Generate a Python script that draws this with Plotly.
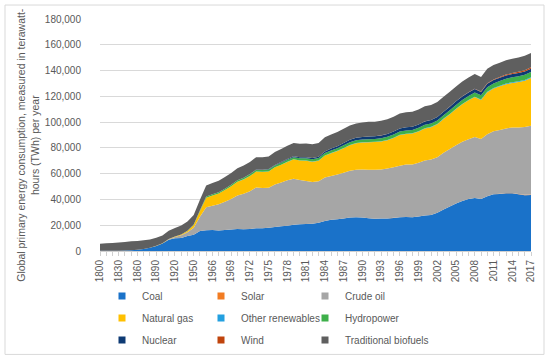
import plotly.graph_objects as go

years = ["1800", "1810", "1820", "1830", "1840", "1850", "1860", "1870", "1880", "1890",
         "1900", "1910", "1920", "1930", "1940", "1950", "1960",
         "1965", "1966", "1967", "1968", "1969", "1970", "1971", "1972", "1973", "1974",
         "1975", "1976", "1977", "1978", "1979", "1980", "1981", "1982", "1983", "1984",
         "1985", "1986", "1987", "1988", "1989", "1990", "1991", "1992", "1993", "1994",
         "1995", "1996", "1997", "1998", "1999", "2000", "2001", "2002", "2003", "2004",
         "2005", "2006", "2007", "2008", "2009", "2010", "2011", "2012", "2013", "2014",
         "2015", "2016", "2017"]

tick_labels = ["1800", "1830", "1860", "1890", "1920", "1950", "1966", "1969", "1972",
               "1975", "1978", "1981", "1984", "1987", "1990", "1993", "1996", "1999",
               "2002", "2005", "2008", "2011", "2014", "2017"]

coal = [97, 128, 153, 264, 356, 569, 1061, 1642, 2542, 3856,
        5728, 8656, 9833, 10125, 11586, 12603, 15442,
        16140, 16300, 15980, 16250, 16700, 17050, 16950, 17100, 17700, 17650,
        18000, 18700, 19200, 19500, 20300, 20700, 21000, 21200, 21900, 23200,
        24200, 24600, 25300, 25900, 26100, 25900, 25400, 25100, 25200, 25300,
        25700, 26200, 26400, 26200, 26800, 27600, 28000, 29700, 32200, 34600,
        36900, 38800, 40300, 41200, 40300, 42400, 44000, 44300, 44800, 44900,
        44000, 43300, 43400]

solar = [0] * 17 + [0] * 25 + [0, 0, 0, 0, 0, 1, 1, 1, 1, 1,
                               1, 2, 2, 3, 3, 4, 6, 8, 12, 20,
                               33, 64, 100, 139, 190, 253, 328, 443]

crude_oil = [0, 0, 0, 0, 0, 0, 0, 6, 33, 89,
             181, 472, 1111, 2056, 3000, 5444, 11097,
             17800, 18900, 20200, 21900, 23600, 26000, 27400, 29300, 31600, 31200,
             31100, 32900, 34000, 35300, 35700, 34300, 33300, 32400, 32300, 33800,
             33900, 34800, 35400, 36400, 37000, 37400, 37600, 37900, 38000, 38700,
             39200, 40000, 40700, 40900, 41700, 42600, 42900, 43000, 44000, 44500,
             45200, 46000, 46400, 47200, 46600, 48200, 48800, 49500, 50200, 50700,
             51600, 52500, 53400]

natural_gas = [0, 0, 0, 0, 0, 0, 0, 0, 0, 33,
               64, 161, 233, 589, 875, 2092, 4472,
               7300, 7850, 8400, 9100, 9900, 10600, 11200, 11800, 12300, 12500,
               12600, 13300, 13700, 14300, 15100, 15200, 15800, 15700, 15900, 17000,
               17800, 18200, 19100, 19800, 20500, 20900, 21400, 21500, 21800, 22000,
               22800, 23800, 23700, 24000, 24200, 24900, 25200, 25600, 26300, 27000,
               28000, 29000, 30200, 31000, 30200, 32600, 33200, 33900, 34300, 34600,
               35300, 36000, 36900]

other_renewables = [0] * 17 + [30, 32, 34, 36, 38, 40, 42, 44, 47, 50,
                               53, 56, 60, 65, 70, 75, 82, 90, 100, 110,
                               120, 128, 135, 142, 150, 160, 165, 170, 175, 180,
                               187, 195, 205, 212, 220, 225, 225, 240, 255, 275,
                               290, 305, 325, 350, 375, 410, 435, 470, 500, 530,
                               560, 575, 590]

hydropower = [0, 0, 0, 0, 0, 0, 0, 0, 0, 0,
              6, 34, 64, 128, 192, 333, 688,
              920, 980, 1000, 1040, 1100, 1160, 1200, 1250, 1290, 1390,
              1420, 1440, 1480, 1580, 1640, 1720, 1740, 1790, 1860, 1930,
              1970, 2000, 2020, 2090, 2100, 2160, 2220, 2230, 2340, 2370,
              2480, 2520, 2570, 2590, 2610, 2660, 2610, 2650, 2650, 2820,
              2930, 3030, 3080, 3210, 3250, 3430, 3500, 3650, 3780, 3880,
              3890, 4020, 4060]

nuclear = [0] * 17 + [25, 34, 40, 52, 62, 80, 111, 154, 203, 256,
                      366, 420, 530, 620, 650, 710, 830, 900, 1020, 1240,
                      1480, 1610, 1750, 1890, 1940, 2000, 2100, 2120, 2190, 2260,
                      2330, 2410, 2390, 2430, 2520, 2580, 2650, 2700, 2640, 2760,
                      2770, 2800, 2740, 2740, 2700, 2770, 2650, 2470, 2490, 2540,
                      2570, 2610, 2640]

wind = [0] * 17 + [0] * 20 + [1, 1, 1, 1, 3, 4, 4, 5, 6, 7,
                              8, 10, 12, 16, 21, 31, 38, 52, 63, 85,
                              104, 133, 171, 220, 277, 342, 437, 522, 636, 712,
                              831, 962, 1123]

traditional_biofuels = [5556, 5833, 6111, 6389, 6667, 6944, 6778, 6611, 6444, 6278,
                        6111, 6389, 6667, 6944, 7222, 7500, 8000,
                        8600, 8750, 8900, 9000, 9150, 9300, 9400, 9500, 9650, 9750,
                        9850, 10000, 10100, 10250, 10400, 10500, 10600, 10700, 10800, 10900,
                        11000, 11050, 11100, 11150, 11200, 11250, 11300, 11350, 11400, 11450,
                        11500, 11550, 11600, 11650, 11700, 11750, 11700, 11650, 11600, 11550,
                        11500, 11450, 11400, 11350, 11300, 11250, 11200, 11200, 11150, 11150,
                        11100, 11100, 11100]

series = [
    ("Coal", coal, "#1a72c9"),
    ("Solar", solar, "#f27c22"),
    ("Crude oil", crude_oil, "#a6a6a6"),
    ("Natural gas", natural_gas, "#ffc000"),
    ("Other renewables", other_renewables, "#23a0e0"),
    ("Hydropower", hydropower, "#3eb04a"),
    ("Nuclear", nuclear, "#0e3a74"),
    ("Wind", wind, "#c0440c"),
    ("Traditional biofuels", traditional_biofuels, "#5f5f5f"),
]

FONT = "Liberation Sans, Arial, sans-serif"
TXT = "#595959"

# plot area geometry (pixels)
PL, PT, PW, PH = 100, 19, 431, 232.4
W, H = 550, 360

fig = go.Figure()
for name, vals, col in series:
    fig.add_trace(go.Scatter(
        x=years, y=vals, name=name, stackgroup="one", mode="none",
        fillcolor=col, line=dict(width=0), showlegend=False,
        hoverinfo="x+y+name"))

# legend laid out in three columns (row-wise order as in the reference)
legend_names = ["legend", "legend2", "legend3"]
for k, (name, vals, col) in enumerate(series):
    fig.add_trace(go.Scatter(
        x=[None], y=[None], name=name, mode="markers",
        marker=dict(symbol="square", size=7, color=col), showlegend=True,
        legend=legend_names[k % 3], legendgroup=name))

ticktext = [y if y in tick_labels else "" for y in years]


def px_x(px):
    return (px - PL) / PW


def px_y(py):
    return (PT + PH - py) / PH


legend_common = dict(orientation="v", xanchor="left", yanchor="top",
                     y=px_y(282), tracegroupgap=3,
                     font=dict(family=FONT, size=10, color=TXT),
                     bgcolor="rgba(0,0,0,0)")

fig.update_layout(
    width=W, height=H,
    margin=dict(l=PL, r=W - PL - PW, t=PT, b=H - PT - PH, autoexpand=False),
    paper_bgcolor="white", plot_bgcolor="white",
    font=dict(family=FONT, size=10, color=TXT),
    showlegend=True,
    legend=dict(x=px_x(102), **legend_common),
    legend2=dict(x=px_x(201), **legend_common),
    legend3=dict(x=px_x(305), **legend_common),
    xaxis=dict(type="category", range=[0, len(years) - 1],
               tickmode="array", tickvals=years, ticktext=ticktext,
               tickangle=-90, ticks="outside", ticklen=4, tickcolor="#d0d0d0",
               showline=True, linecolor="#d0d0d0", linewidth=1,
               showgrid=False, tickfont=dict(size=10, color=TXT)),
    yaxis=dict(range=[0, 180000], dtick=20000, tickformat=",",
               showgrid=True, gridcolor="#d9d9d9", gridwidth=1,
               zeroline=False, showline=False, ticks="",
               ticklabelstandoff=18,
               tickfont=dict(size=10, color=TXT)),
    annotations=[dict(
        text="Global primary energy consumption, measured in terawatt-<br>hours (TWh) per year",
        xref="paper", yref="paper", x=px_x(28), y=px_y(145), textangle=-90,
        showarrow=False, font=dict(family=FONT, size=10.5, color=TXT),
        xanchor="center", yanchor="middle")],
    shapes=[dict(type="rect", xref="paper", yref="paper",
                 x0=px_x(5), x1=px_x(544), y0=px_y(355), y1=px_y(5),
                 line=dict(color="#d9d9d9", width=1), layer="above")],
)

fig.write_html("out.html", config={"displayModeBar": False},
               post_script="document.body.style.margin='0';")
